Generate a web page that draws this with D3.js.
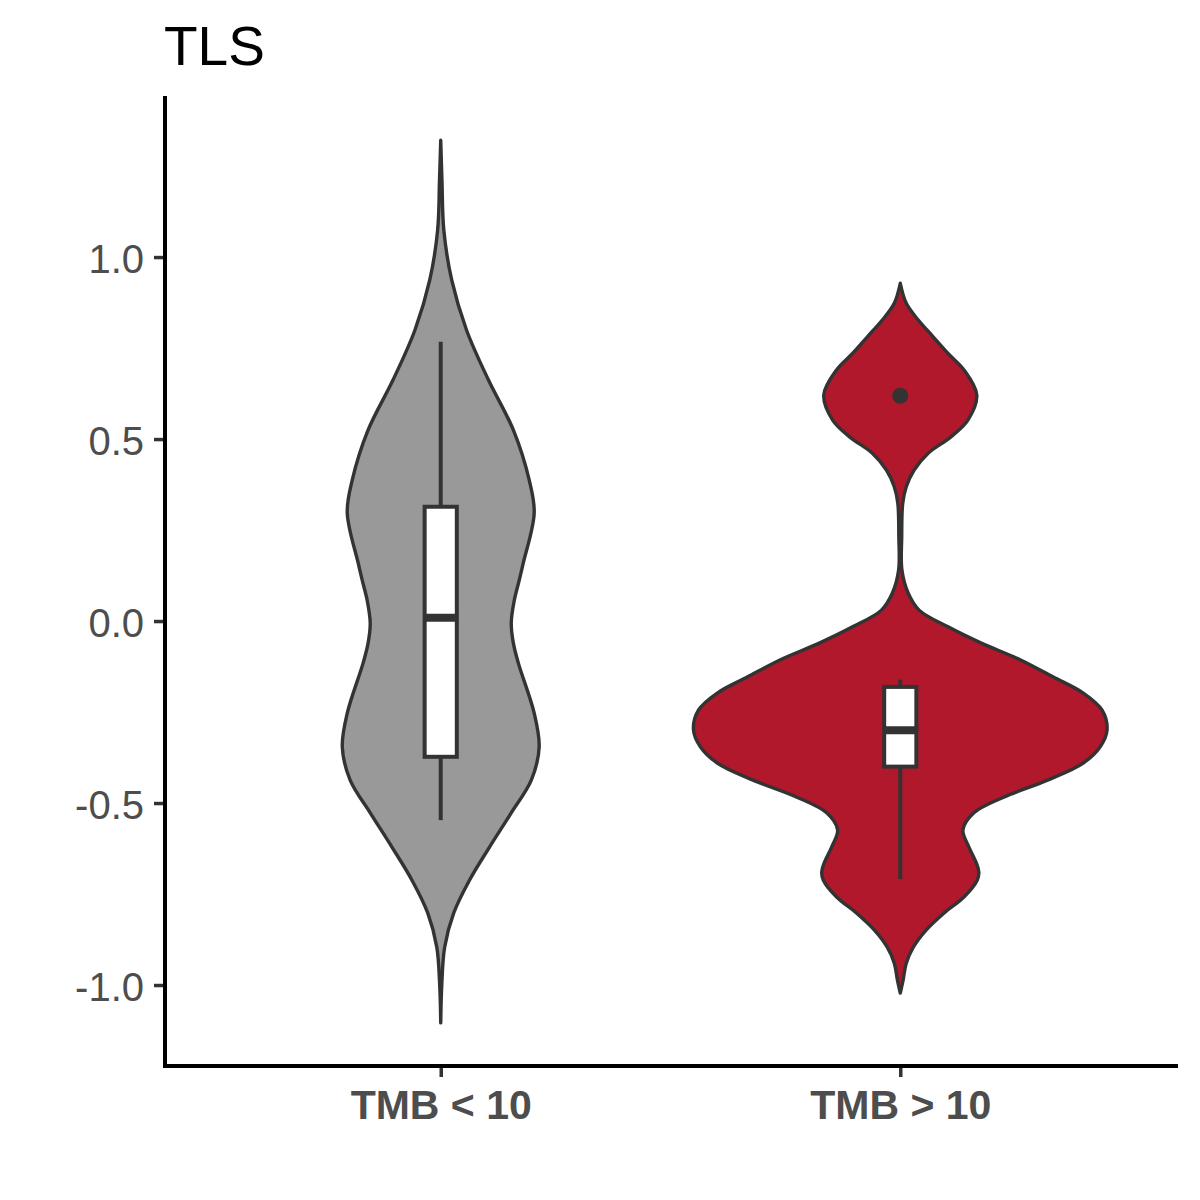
<!DOCTYPE html>
<html>
<head>
<meta charset="utf-8">
<script src="https://cdn.jsdelivr.net/npm/d3@7"></script>
<style>
  html, body { margin: 0; padding: 0; background: #ffffff; }
  svg { display: block; }
  text { font-family: "Liberation Sans", Arial, sans-serif; }
</style>
</head>
<body>
<svg id="chart" width="1200" height="1200"></svg>
<script>
// ---- data ----
const title = "TLS";
const categories = ["TMB < 10", "TMB > 10"];
const fills = ["#999999", "#B2182B"];
const yTicks = [-1.0, -0.5, 0.0, 0.5, 1.0];

// violin density profiles: [value, relative density]
const violinLow = [
  [-1.104, 0], [-1.00, 0.005], [-0.896, 0.019], [-0.802, 0.063], [-0.712, 0.139],
  [-0.621, 0.236], [-0.527, 0.341], [-0.437, 0.438], [-0.346, 0.476], [-0.253, 0.452],
  [-0.115, 0.375], [-0.060, 0.351], [-0.005, 0.341], [0.058, 0.356], [0.113, 0.380],
  [0.159, 0.399], [0.297, 0.452], [0.387, 0.428], [0.525, 0.351], [0.662, 0.231],
  [0.799, 0.125], [0.937, 0.053], [1.074, 0.015], [1.21, 0.006], [1.321, 0]
];
const violinHigh = [
  [-1.022, 0], [-0.986, 0.014], [-0.940, 0.029], [-0.896, 0.063], [-0.849, 0.125],
  [-0.802, 0.212], [-0.758, 0.308], [-0.712, 0.372], [-0.690, 0.380], [-0.665, 0.368],
  [-0.621, 0.332], [-0.574, 0.303], [-0.527, 0.356], [-0.484, 0.500], [-0.437, 0.712],
  [-0.390, 0.885], [-0.346, 0.966], [-0.299, 1.000], [-0.245, 0.976], [-0.198, 0.885],
  [-0.154, 0.740], [-0.107, 0.582], [-0.060, 0.389], [-0.016, 0.231], [0.030, 0.091],
  [0.077, 0.038], [0.140, 0.008], [0.231, 0.007], [0.324, 0.012], [0.369, 0.029],
  [0.415, 0.067], [0.461, 0.135], [0.506, 0.245], [0.552, 0.327], [0.621, 0.370],
  [0.690, 0.308], [0.735, 0.231], [0.781, 0.159], [0.827, 0.087], [0.873, 0.029],
  [0.928, 0]
];
const violins = [violinLow, violinHigh];

// box plot stats: [lowerWhisker, Q1, median, Q3, upperWhisker]
const boxStats = [
  [-0.547, -0.373, 0.009, 0.314, 0.767],
  [-0.709, -0.400, -0.300, -0.181, -0.161]
];
const outliers = [[1, 0.619]]; // [category index, value]

// ---- layout ----
const svg = d3.select("#chart");
const plotLeft = 165, plotRight = 1176, plotTop = 98, plotBottom = 1066;

const y = d3.scaleLinear().domain([-1.2225, 1.437]).range([plotBottom, plotTop]);
const x = d3.scalePoint().domain(categories).range([plotLeft, plotRight]).padding(0.6);
const step = x.step();
const w = d3.scaleLinear().domain([0, 1]).range([0, 0.45 * step]);
const boxW = 0.07 * step;
const ink = "#333333";

// violins
violins.forEach((prof, i) => {
  const cx = x(categories[i]);
  const area = d3.area()
    .y(d => y(d[0]))
    .x0(d => cx - w(d[1]))
    .x1(d => cx + w(d[1]))
    .curve(d3.curveCatmullRom.alpha(0.5));
  svg.append("path")
    .attr("d", area(prof))
    .attr("fill", fills[i])
    .attr("stroke", ink)
    .attr("stroke-width", 3.4)
    .attr("stroke-linejoin", "round");
});

// boxes
boxStats.forEach((s, i) => {
  const cx = x(categories[i]);
  const g = svg.append("g");
  g.append("line").attr("x1", cx).attr("x2", cx).attr("y1", y(s[3])).attr("y2", y(s[4]))
    .attr("stroke", ink).attr("stroke-width", 4);
  g.append("line").attr("x1", cx).attr("x2", cx).attr("y1", y(s[1])).attr("y2", y(s[0]))
    .attr("stroke", ink).attr("stroke-width", 4);
  g.append("rect")
    .attr("x", cx - boxW / 2).attr("width", boxW)
    .attr("y", y(s[3])).attr("height", y(s[1]) - y(s[3]))
    .attr("fill", "#ffffff").attr("stroke", ink).attr("stroke-width", 4);
  g.append("line").attr("x1", cx - boxW / 2).attr("x2", cx + boxW / 2)
    .attr("y1", y(s[2])).attr("y2", y(s[2]))
    .attr("stroke", ink).attr("stroke-width", 8);
});

// outliers
svg.selectAll("circle.out").data(outliers).enter().append("circle")
  .attr("class", "out")
  .attr("cx", d => x(categories[d[0]]))
  .attr("cy", d => y(d[1]))
  .attr("r", 8)
  .attr("fill", ink);

// y axis
const yAxis = svg.append("g").attr("transform", `translate(${plotLeft},0)`)
  .call(d3.axisLeft(y).tickValues(yTicks).tickFormat(d => d.toFixed(1)).tickSize(11).tickPadding(10));
yAxis.select(".domain").remove();
yAxis.selectAll(".tick line").attr("stroke", ink).attr("stroke-width", 3.5);
yAxis.selectAll(".tick text").attr("fill", "#4D4D4D").attr("font-size", 40)
  .attr("dy", null).attr("y", 15)
  .attr("font-family", "'Liberation Sans', Arial, sans-serif");

// x axis
const xAxis = svg.append("g").attr("transform", `translate(0,${plotBottom})`)
  .call(d3.axisBottom(x).tickSize(11).tickPadding(10));
xAxis.select(".domain").remove();
xAxis.selectAll(".tick line").attr("stroke", ink).attr("stroke-width", 3.5);
xAxis.selectAll(".tick text").attr("fill", "#4D4D4D").attr("font-size", 41)
  .attr("font-weight", "bold").attr("dy", null).attr("y", 53)
  .attr("font-family", "'Liberation Sans', Arial, sans-serif");

// axis lines
svg.append("line").attr("x1", plotLeft).attr("x2", plotLeft).attr("y1", plotTop).attr("y2", plotBottom)
  .attr("stroke", "#000").attr("stroke-width", 4).attr("stroke-linecap", "square");
svg.append("line").attr("x1", plotLeft).attr("x2", plotRight).attr("y1", plotBottom).attr("y2", plotBottom)
  .attr("stroke", "#000").attr("stroke-width", 4).attr("stroke-linecap", "square");

// title
svg.append("text").attr("x", 164).attr("y", 65)
  .attr("font-size", 55).attr("fill", "#000").text(title);
</script>
</body>
</html>
